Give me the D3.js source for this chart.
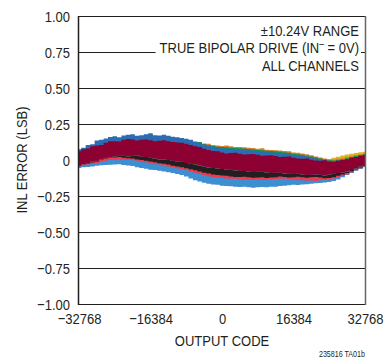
<!DOCTYPE html>
<html>
<head>
<meta charset="utf-8">
<script src="https://cdn.jsdelivr.net/npm/d3@7"></script>
<style>
  body { margin: 0; background: #fff; }
  text { font-family: "Liberation Sans", Arial, sans-serif; fill: #231f20; }
</style>
</head>
<body>
<div id="chart"></div>
<script>
// chart data (INL envelopes per channel, LSB, sampled every 1024 codes)
const xTicks = [-32768, -16384, 0, 16384, 32768];
const xTickLabels = ["\u221232768", "\u221216384", "0", "16384", "32768"];
const yTicks = [1, 0.75, 0.5, 0.25, 0, -0.25, -0.5, -0.75, -1];
const yTickLabels = ["1.00", "0.75", "0.50", "0.25", "0", "\u22120.25", "\u22120.50", "\u22120.75", "\u22121.00"];

const codes = d3.range(-32768, 32769, 1024);

const maroonHi = [0.06, 0.075, 0.08, 0.095, 0.10, 0.105, 0.12, 0.13, 0.13, 0.128, 0.14, 0.145, 0.142, 0.135, 0.14, 0.143, 0.137, 0.13, 0.133, 0.138, 0.13, 0.125, 0.122, 0.12, 0.112, 0.105, 0.095, 0.09, 0.078, 0.07, 0.062, 0.06, 0.052, 0.046, 0.048, 0.05, 0.044, 0.038, 0.04, 0.042, 0.036, 0.03, 0.032, 0.033, 0.028, 0.02, 0.022, 0.025, 0.015, 0.01, 0.008, 0.01, 0.002, -0.004, -0.005, -0.002, -0.01, -0.012, -0.005, 0.0, 0.005, 0.015, 0.02, 0.03, 0.035];
const maroonLo = [-0.035, -0.03, -0.02, -0.01, -0.005, 0.005, 0.015, 0.018, 0.025, 0.03, 0.03, 0.026, 0.03, 0.032, 0.022, 0.02, 0.015, 0.01, 0.005, 0.006, 0.0, -0.006, -0.01, -0.012, -0.02, -0.026, -0.03, -0.036, -0.045, -0.05, -0.056, -0.058, -0.062, -0.066, -0.068, -0.072, -0.075, -0.076, -0.08, -0.084, -0.082, -0.082, -0.085, -0.09, -0.088, -0.088, -0.092, -0.096, -0.097, -0.095, -0.1, -0.104, -0.102, -0.1, -0.103, -0.106, -0.1, -0.096, -0.09, -0.086, -0.078, -0.07, -0.058, -0.046, -0.035];
const blueHi = [0.075, 0.085, 0.105, 0.11, 0.135, 0.14, 0.15, 0.16, 0.165, 0.158, 0.17, 0.175, 0.178, 0.168, 0.172, 0.178, 0.178, 0.172, 0.17, 0.175, 0.168, 0.162, 0.158, 0.152, 0.148, 0.14, 0.128, 0.12, 0.108, 0.1, 0.092, 0.09, 0.082, 0.08, 0.078, 0.075, 0.072, 0.07, 0.068, 0.066, 0.062, 0.06, 0.055, 0.052, 0.05, 0.048, 0.044, 0.04, 0.035, 0.032, 0.028, 0.024, 0.018, 0.012, 0.005, 0.0, -0.006, -0.008, -0.004, 0.0, 0.005, 0.012, 0.02, 0.03, 0.035];
const orangeHi = [0.04, 0.06, 0.08, 0.095, 0.11, 0.12, 0.13, 0.135, 0.14, 0.145, 0.15, 0.152, 0.155, 0.158, 0.16, 0.162, 0.165, 0.162, 0.16, 0.158, 0.155, 0.152, 0.15, 0.145, 0.14, 0.132, 0.125, 0.12, 0.115, 0.112, 0.105, 0.1, 0.098, 0.1, 0.095, 0.09, 0.09, 0.088, 0.085, 0.083, 0.078, 0.082, 0.072, 0.07, 0.068, 0.066, 0.062, 0.06, 0.052, 0.05, 0.045, 0.04, 0.033, 0.025, 0.018, 0.01, 0.005, 0.004, 0.008, 0.012, 0.02, 0.028, 0.035, 0.04, 0.045];
const greenHi = [0.03, 0.05, 0.07, 0.085, 0.1, 0.11, 0.12, 0.125, 0.13, 0.135, 0.14, 0.145, 0.15, 0.155, 0.16, 0.16, 0.185, 0.16, 0.165, 0.16, 0.155, 0.15, 0.145, 0.14, 0.135, 0.13, 0.122, 0.125, 0.11, 0.1, 0.098, 0.092, 0.09, 0.088, 0.085, 0.084, 0.082, 0.08, 0.077, 0.073, 0.07, 0.068, 0.064, 0.062, 0.06, 0.058, 0.054, 0.05, 0.044, 0.04, 0.037, 0.03, 0.025, 0.018, 0.01, 0.004, -0.002, -0.004, 0.0, 0.006, 0.012, 0.02, 0.028, 0.034, 0.04];
const yellowHi = [0.02, 0.04, 0.06, 0.075, 0.09, 0.1, 0.11, 0.115, 0.12, 0.125, 0.13, 0.132, 0.135, 0.138, 0.14, 0.14, 0.14, 0.14, 0.14, 0.138, 0.135, 0.132, 0.13, 0.125, 0.12, 0.112, 0.105, 0.1, 0.095, 0.09, 0.085, 0.08, 0.078, 0.076, 0.075, 0.072, 0.07, 0.068, 0.065, 0.062, 0.058, 0.055, 0.052, 0.05, 0.048, 0.045, 0.042, 0.038, 0.032, 0.028, 0.025, 0.02, 0.015, 0.01, 0.008, 0.006, 0.005, 0.015, 0.022, 0.032, 0.038, 0.044, 0.048, 0.054, 0.058];
const blackLo = [-0.04, -0.032, -0.025, -0.018, -0.01, 0.0, 0.01, 0.015, 0.018, 0.02, 0.015, 0.012, 0.01, 0.004, 0.0, -0.006, -0.01, -0.016, -0.022, -0.026, -0.032, -0.04, -0.045, -0.05, -0.058, -0.064, -0.072, -0.08, -0.088, -0.094, -0.1, -0.105, -0.108, -0.11, -0.114, -0.118, -0.118, -0.116, -0.12, -0.124, -0.122, -0.12, -0.125, -0.122, -0.12, -0.115, -0.118, -0.122, -0.12, -0.116, -0.12, -0.124, -0.12, -0.118, -0.122, -0.126, -0.125, -0.12, -0.11, -0.1, -0.09, -0.078, -0.065, -0.052, -0.04];
const redLo = [-0.045, -0.04, -0.032, -0.026, -0.02, -0.012, -0.005, 0.0, 0.002, 0.004, 0.002, 0.0, 0.0, -0.006, -0.012, -0.016, -0.022, -0.028, -0.032, -0.038, -0.045, -0.05, -0.058, -0.064, -0.07, -0.078, -0.088, -0.096, -0.105, -0.112, -0.118, -0.12, -0.125, -0.128, -0.13, -0.13, -0.133, -0.136, -0.137, -0.138, -0.138, -0.135, -0.137, -0.134, -0.132, -0.13, -0.13, -0.133, -0.135, -0.138, -0.14, -0.142, -0.143, -0.145, -0.14, -0.138, -0.135, -0.128, -0.12, -0.11, -0.1, -0.086, -0.072, -0.058, -0.045];
const lightBlueLo = [-0.055, -0.05, -0.048, -0.045, -0.04, -0.036, -0.035, -0.033, -0.032, -0.03, -0.035, -0.038, -0.042, -0.05, -0.055, -0.06, -0.068, -0.07, -0.075, -0.08, -0.085, -0.09, -0.098, -0.105, -0.115, -0.128, -0.14, -0.15, -0.158, -0.165, -0.17, -0.172, -0.178, -0.18, -0.182, -0.186, -0.188, -0.186, -0.19, -0.192, -0.19, -0.188, -0.19, -0.186, -0.185, -0.18, -0.178, -0.175, -0.172, -0.174, -0.17, -0.168, -0.165, -0.162, -0.16, -0.156, -0.152, -0.145, -0.135, -0.12, -0.105, -0.09, -0.075, -0.062, -0.05];

// draw order: back to front
const channels = [
  { hi: maroonHi, lo: lightBlueLo, color: "#3d8fd1" },
  { hi: maroonHi, lo: redLo, color: "#ec3b50" },
  { hi: maroonHi, lo: blackLo, color: "#231f20" },
  { hi: yellowHi, lo: maroonLo, color: "#dcb21f" },
  { hi: orangeHi, lo: maroonLo, color: "#d67f2c" },
  { hi: greenHi, lo: maroonLo, color: "#12924a" },
  { hi: blueHi, lo: maroonLo, color: "#2b6cb3" },
  { hi: maroonHi, lo: maroonLo, color: "#8c0032" }
];

const width = 386;
const height = 358;
const squeeze = 0.84; // condensed type look
const svg = d3.select('#chart').append('svg')
  .attr('width', width)
  .attr('height', height);

const x = d3.scaleLinear().domain([-32768, 32768]).range([79, 365]);
const y = d3.scaleLinear().domain([-1, 1]).range([304, 16]);

function narrow(sel) {
  sel.each(function() {
    const t = d3.select(this);
    const tx = +t.attr('x') || 0;
    t.attr('transform', `translate(${tx},0) scale(${squeeze},1) translate(${-tx},0)`);
  });
}

// y labels
const yAxis = svg.append('g')
  .attr('transform', 'translate(79,0.5)')
  .call(d3.axisLeft(y).tickValues(yTicks).tickSize(0).tickPadding(9)
    .tickFormat((d, i) => yTickLabels[i]));
yAxis.select('.domain').remove();
yAxis.selectAll('text').attr('font-size', 15.5).attr('font-family', null).attr('fill', '#231f20').call(narrow);

// gridlines
svg.append('g').selectAll('line')
  .data(yTicks)
  .enter().append('line')
  .attr('x1', 79).attr('x2', 365)
  .attr('y1', d => y(d) + 0.5).attr('y2', d => y(d) + 0.5)
  .attr('stroke', '#231f20').attr('stroke-width', 1);

// channel bands
const area = d3.area()
  .x((d, i) => x(codes[i]))
  .y0(d => y(d[1]))
  .y1(d => y(d[0]))
  .curve(d3.curveStep);

svg.append('g').selectAll('path')
  .data(channels)
  .enter().append('path')
  .attr('d', c => area(c.hi.map((v, i) => [v, c.lo[i]])))
  .attr('fill', c => c.color);

// frame
svg.append('line').attr('x1', 78.5).attr('x2', 78.5).attr('y1', 16).attr('y2', 305)
  .attr('stroke', '#231f20').attr('stroke-width', 1.5);
svg.append('line').attr('x1', 365.5).attr('x2', 365.5).attr('y1', 16).attr('y2', 305)
  .attr('stroke', '#666').attr('stroke-width', 1.5);

// x labels
const xAxis = svg.append('g')
  .attr('transform', 'translate(0,304)')
  .call(d3.axisBottom(x).tickValues(xTicks).tickSize(0).tickPadding(9)
    .tickFormat((d, i) => xTickLabels[i]));
xAxis.select('.domain').remove();
xAxis.selectAll('text').attr('font-size', 15.5).attr('font-family', null).attr('fill', '#231f20').call(narrow);

svg.append('text')
  .attr('x', 222).attr('y', 346)
  .attr('text-anchor', 'middle')
  .attr('font-size', 15.5)
  .text('OUTPUT CODE')
  .call(narrow);

svg.append('text')
  .attr('transform', `translate(26.5,160) rotate(-90) scale(${squeeze},1)`)
  .attr('text-anchor', 'middle')
  .attr('font-size', 15.5)
  .text('INL ERROR (LSB)');

// annotation
const note = svg.append('g');
const noteBg = note.append('rect').attr('fill', '#fff');
const noteText = note.append('text')
  .attr('x', 359)
  .attr('text-anchor', 'end')
  .attr('font-size', 15.5);
noteText.append('tspan').attr('x', 359).attr('y', 36).text('\u00b110.24V RANGE');
const l2 = noteText.append('tspan').attr('x', 359).attr('y', 53.5);
l2.append('tspan').text('TRUE BIPOLAR DRIVE (IN');
l2.append('tspan').attr('dy', -6).attr('font-size', 10).text('\u2013');
l2.append('tspan').attr('dy', 6).text(' = 0V)');
noteText.append('tspan').attr('x', 359).attr('y', 71).text('ALL CHANNELS');
noteText.call(narrow);
const bb = noteText.node().getBBox();
const left = 359 - (359 - bb.x) * squeeze;
noteBg.attr('x', left - 4).attr('y', 18).attr('width', 359 - left + 6).attr('height', bb.y + bb.height - 16);

svg.append('text')
  .attr('x', 365).attr('y', 357)
  .attr('text-anchor', 'end')
  .attr('font-size', 8.5)
  .text('235816 TA01b')
  .call(narrow);
</script>
</body>
</html>
